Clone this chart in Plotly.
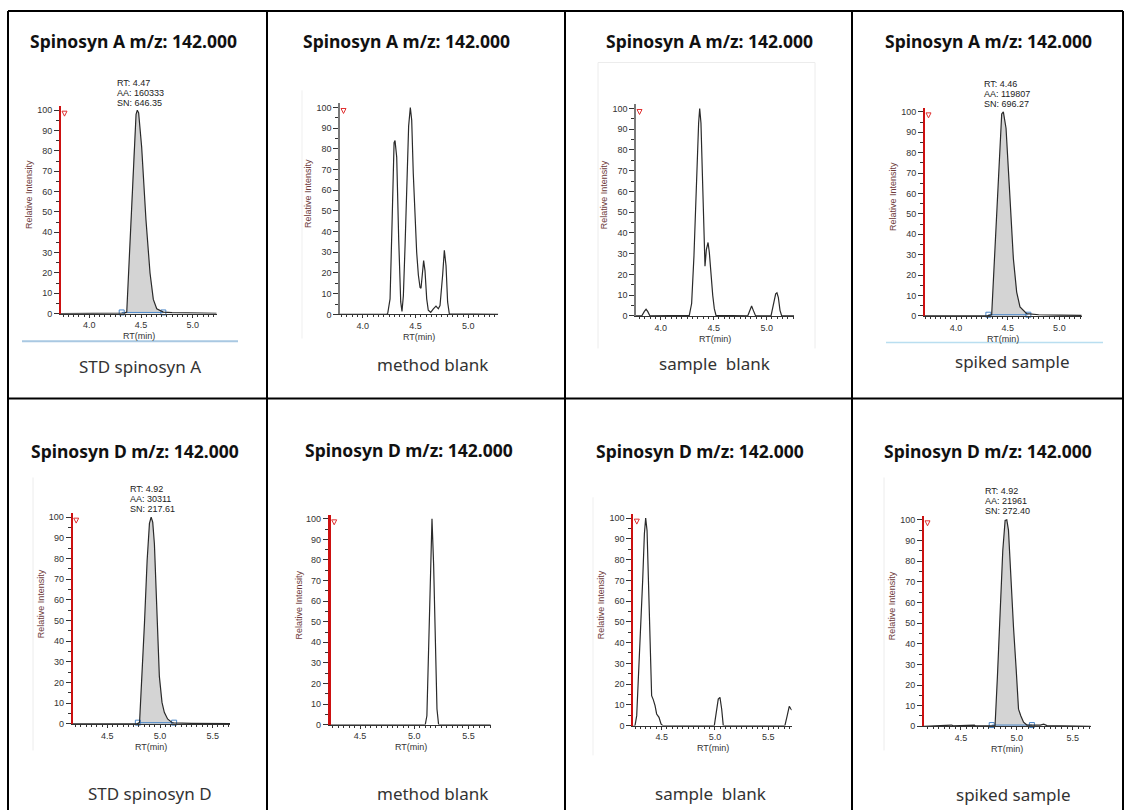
import plotly.graph_objects as go

W, H = 1130, 811

# ---------------- data ----------------
# Spinosyn A, STD
rt_a_std = [3.726, 4.30, 4.34, 4.362, 4.38, 4.403, 4.43, 4.452, 4.464, 4.477, 4.506, 4.548, 4.587, 4.619, 4.652, 4.716, 4.80, 4.95, 5.10, 5.232]
int_a_std = [0, 0, 0.3, 0.8, 20, 51, 80, 98, 100, 98.7, 82, 46, 20, 7, 2.4, 0.8, 0.5, 0.4, 0.3, 0.2]
# Spinosyn A, method blank
rt_a_mb = [3.785, 4.227, 4.237, 4.259, 4.278, 4.297, 4.306, 4.322, 4.341, 4.360, 4.372, 4.385, 4.401, 4.423, 4.435,
           4.451, 4.464, 4.479, 4.495, 4.511, 4.527, 4.543, 4.552, 4.565, 4.577, 4.590, 4.606, 4.621, 4.644, 4.669,
           4.694, 4.716, 4.732, 4.757, 4.773, 4.789, 4.804, 4.820, 5.284]
int_a_mb = [0, 0, 0.5, 7.5, 44, 83, 84, 76, 36, 6, 1.4, 9, 33, 76, 91,
            100, 94, 68, 44, 30, 19, 13, 12.6, 21, 26, 21, 7.5, 2, 1, 2.7,
            4, 2.7, 4.3, 19, 31, 23.5, 6, 0.3, 0]
# Spinosyn A, sample blank
rt_a_sb = [3.767, 3.821, 3.846, 3.862, 3.877, 3.899, 4.270, 4.292, 4.314, 4.340, 4.358, 4.368, 4.380, 4.393, 4.406,
           4.418, 4.431, 4.447, 4.459, 4.475, 4.491, 4.506, 4.522, 4.821, 4.843, 4.858, 4.874, 4.896, 5.041, 5.063,
           5.085, 5.097, 5.110, 5.126, 5.142, 5.258]
int_a_sb = [0, 0, 2.2, 3.2, 2.2, 0, 0.3, 6, 29, 69, 93, 100, 93, 69, 40,
            24, 32, 35.4, 30.6, 19.5, 10, 3.5, 0.3, 0, 3.5, 4.8, 2.7, 0, 0, 5,
            10.7, 11.2, 9, 2.7, 0, 0]
# Spinosyn A, spiked sample
rt_a_spk = [3.700, 4.30, 4.345, 4.377, 4.410, 4.442, 4.458, 4.484, 4.523, 4.555, 4.587, 4.619, 4.684, 4.80, 5.00, 5.216]
int_a_spk = [0, 0, 0.6, 34, 72, 99, 100, 92, 57, 28, 11.7, 4.4, 1.1, 0.6, 0.4, 0.3]

# Spinosyn D, STD
rt_d_std = [4.172, 4.78, 4.806, 4.831, 4.853, 4.878, 4.900, 4.916, 4.931, 4.947, 4.969, 4.994, 5.019, 5.041, 5.072, 5.119, 5.30, 5.664]
int_d_std = [0, 0, 0.5, 23, 49, 79, 97, 100, 97.6, 87, 52, 23, 10.4, 5.6, 2.4, 0.5, 0.3, 0.2]
# Spinosyn D, method blank
rt_d_mb = [4.229, 5.102, 5.117, 5.133, 5.148, 5.164, 5.179, 5.194, 5.210, 5.225, 5.706]
int_d_mb = [0, 0, 4.3, 41, 78, 100, 78, 41, 7.6, 0, 0]
# Spinosyn D, sample blank
rt_d_sb = [4.234, 4.25, 4.266, 4.281, 4.303, 4.322, 4.338, 4.35, 4.363, 4.378, 4.394, 4.406, 4.422, 4.438, 4.453,
           4.475, 4.494, 4.51, 4.994, 5.016, 5.031, 5.047, 5.063, 5.078, 5.656, 5.678, 5.697, 5.713, 5.72]
int_d_sb = [0, 0, 4.8, 20.7, 46, 70, 92.5, 100, 94, 70, 35, 14.4, 12.4, 9.6, 5.6,
            4, 0.8, 0, 0, 6.4, 12.8, 13.6, 8, 0, 0, 4.8, 9.3, 8, 7.5]
# Spinosyn D, spiked sample
rt_d_spk = [4.169, 4.40, 4.416, 4.43, 4.61, 4.62, 4.63, 4.805, 4.826, 4.850, 4.874, 4.895, 4.910, 4.925, 4.946,
            4.970, 4.994, 5.015, 5.036, 5.060, 5.090, 5.21, 5.24, 5.27, 5.661]
int_d_spk = [0, 0.3, 0.6, 0.2, 0.3, 0.6, 0.2, 0.3, 24, 56, 85, 99.7, 100, 95, 72,
             48, 27.6, 8.3, 5, 2, 0.6, 0.6, 1, 0.3, 0]

# integrated peak limits (start, end) and peak labels
peak_a_std = [4.313, 4.716]
peak_a_spk = [4.313, 4.700]
peak_d_std = [4.790, 5.134]
peak_d_spk = [4.775, 5.135]
label_a_std = ["RT: 4.47", "AA: 160333", "SN: 646.35"]
label_a_spk = ["RT: 4.46", "AA: 119807", "SN: 696.27"]
label_d_std = ["RT: 4.92", "AA: 30311", "SN: 217.61"]
label_d_spk = ["RT: 4.92", "AA: 21961", "SN: 272.40"]

titles = ["Spinosyn A m/z: 142.000"] * 4 + ["Spinosyn D m/z: 142.000"] * 4
captions = ["STD spinosyn A", "method blank", "sample  blank", "spiked sample",
            "STD spinosyn D", "method blank", "sample  blank", "spiked sample"]

# ---------------- layout of panels (pixel boxes) ----------------
panels = [
    dict(rt=rt_a_std, it=int_a_std, box=(61, 216.7, 110, 315), xr=(3.726, 5.232), red=True, peak=peak_a_std, lab=label_a_std, lxy=(115, 82.7)),
    dict(rt=rt_a_mb, it=int_a_mb, box=(340, 498.3, 107.3, 315.7), xr=(3.785, 5.284), red=False),
    dict(rt=rt_a_sb, it=int_a_sb, box=(636, 794, 108.3, 317.3), xr=(3.767, 5.258), red=False),
    dict(rt=rt_a_spk, it=int_a_spk, box=(925, 1081.7, 111.7, 317.3), xr=(3.700, 5.216), red=True, peak=peak_a_spk, lab=label_a_spk, lxy=(981.7, 83.3)),
    dict(rt=rt_d_std, it=int_d_std, box=(72.7, 230, 520, 728.3), xr=(4.172, 5.664), red=True, peak=peak_d_std, lab=label_d_std, lxy=(128.3, 491.7)),
    dict(rt=rt_d_mb, it=int_d_mb, box=(330.7, 490.7, 521.7, 729), xr=(4.229, 5.706), red=True, lw=2.6),
    dict(rt=rt_d_sb, it=int_d_sb, box=(633.3, 791.7, 521, 730), xr=(4.234, 5.720), red=True),
    dict(rt=rt_d_spk, it=int_d_spk, box=(924, 1090.7, 522.7, 730.7), xr=(4.169, 5.661), red=True, peak=peak_d_spk, lab=label_d_spk, lxy=(983.3, 493.3)),
]

title_pos = [(133, 40), (406, 40), (709, 40), (988, 40), (135, 453), (409, 452), (700, 453), (988, 453)]
caption_pos = [(140, 368), (433, 366), (714, 365), (1012, 363), (150, 798), (433, 798), (710, 798), (1013, 799)]

def px(x):
    return x / W

def py(y):
    return 1 - y / H

SANS = "Liberation Sans, Arial, sans-serif"
TICKFONT = dict(family=SANS, size=9, color="#333333")
YMAX = 102

fig = go.Figure()
layout = dict(width=W, height=H, margin=dict(l=0, r=0, t=0, b=0), autosize=False,
              paper_bgcolor="white", plot_bgcolor="white", showlegend=False)
annotations = []
shapes = []

for i, p in enumerate(panels):
    n = "" if i == 0 else str(i + 1)
    xa, ya = "x" + n, "y" + n
    left, right, top, bottom = p["box"]
    hgt = bottom - top
    top_ext = top - (YMAX - 100) / 100 * hgt
    layout["xaxis" + n] = dict(
        domain=[px(left), px(right)], range=list(p["xr"]), anchor=ya,
        showline=True, linecolor="#333333", linewidth=1, showgrid=False, zeroline=False,
        ticks="outside", ticklen=3, tickwidth=1, tickcolor="#333333",
        tick0=0, dtick=0.5, tickformat=".1f", tickfont=TICKFONT,
        minor=dict(tick0=0, dtick=0.05, ticks="outside", ticklen=2, tickcolor="#333333", showgrid=False),
        fixedrange=True)
    layout["yaxis" + n] = dict(
        domain=[py(bottom), py(top_ext)], range=[0, YMAX], anchor=xa,
        showline=True, linecolor="#cc1111" if p["red"] else "#7a7a7a",
        linewidth=p.get("lw", 2) if p["red"] else 1.5,
        showgrid=False, zeroline=False,
        ticks="outside", ticklen=5, tickwidth=1, tickcolor="#333333",
        tick0=0, dtick=10, tickfont=TICKFONT,
        minor=dict(tick0=0, dtick=5, ticks="outside", ticklen=3, tickcolor="#333333", showgrid=False),
        fixedrange=True)

    if "peak" in p:
        s, e = p["peak"]
        fx = [r for r in p["rt"] if s <= r <= e]
        fy = [v for r, v in zip(p["rt"], p["it"]) if s <= r <= e]
        fig.add_trace(go.Scatter(x=fx, y=fy, xaxis=xa, yaxis=ya, mode="lines",
                                 fill="tozeroy", fillcolor="#d4d4d4", line=dict(width=0),
                                 hoverinfo="skip"))
        fig.add_trace(go.Scatter(x=[s, e], y=[0.6, 0.6], xaxis=xa, yaxis=ya, mode="lines+markers",
                                 line=dict(color="#4a86c8", width=1),
                                 marker=dict(symbol="square-open", size=5, color="#4a86c8", line=dict(width=1)),
                                 hoverinfo="skip", cliponaxis=False))
        lx, ly = p["lxy"]
        for k, line in enumerate(p["lab"]):
            annotations.append(dict(x=px(lx), y=py(ly + 10 * k), xref="paper", yref="paper",
                                    xanchor="left", yanchor="middle", align="left", showarrow=False,
                                    text=line, font=dict(family=SANS, size=9, color="#222222")))

    fig.add_trace(go.Scatter(x=p["rt"], y=p["it"], xaxis=xa, yaxis=ya, mode="lines",
                             line=dict(color="#2a2a2a", width=1.2), hoverinfo="skip"))

    # axis titles
    annotations.append(dict(x=px(left - 32), y=py((top + bottom) / 2 - 17), xref="paper", yref="paper",
                            text="Relative Intensity", textangle=-90, showarrow=False,
                            xanchor="center", yanchor="middle",
                            font=dict(family=SANS, size=9, color="#6e3b3b")))
    annotations.append(dict(x=px((left + right) / 2), y=py(bottom + 23), xref="paper", yref="paper",
                            text="RT(min)", showarrow=False, xanchor="center", yanchor="middle",
                            font=dict(family=SANS, size=9, color="#333333")))
    # little red marker at the top of the y axis
    shapes.append(dict(type="path", xref="paper", yref="paper",
                       path="M {a},{b} L {c},{b} L {d},{e} Z".format(
                           a=px(left + 1), b=py(top + 1), c=px(left + 6), d=px(left + 3.5), e=py(top + 6)),
                       line=dict(color="#e03030", width=1)))

    tx, ty = title_pos[i]
    annotations.append(dict(x=px(tx), y=py(ty), xref="paper", yref="paper", text=titles[i],
                            showarrow=False, xanchor="center", yanchor="middle",
                            font=dict(family="Noto Sans, Open Sans, sans-serif", size=17.5, color="#111111", weight="bold")))
    cx, cy = caption_pos[i]
    annotations.append(dict(x=px(cx), y=py(cy), xref="paper", yref="paper", text=captions[i],
                            showarrow=False, xanchor="center", yanchor="middle",
                            font=dict(family="Noto Sans, Open Sans, sans-serif", size=17, color="#333333")))

# faint screenshot frames and light-blue rules
def seg(x0, y0, x1, y1, color, width):
    shapes.append(dict(type="line", xref="paper", yref="paper", x0=px(x0), y0=py(y0), x1=px(x1), y1=py(y1),
                       line=dict(color=color, width=width)))

seg(22, 342.7, 238, 342.7, "#a9c8e2", 2)
seg(886, 344, 1103, 344, "#b9def0", 1.5)
seg(598, 62, 598, 350, "#ececec", 1)
seg(598, 62, 815, 62, "#ececec", 1)
seg(815, 62, 815, 350, "#ececec", 1)
seg(302, 90, 302, 340, "#efefef", 1)
seg(33, 480, 33, 755, "#ececec", 1)
seg(593, 500, 593, 760, "#efefef", 1)
seg(884, 480, 884, 755, "#ececec", 1)

# table grid
for x in [8, 267, 565, 852, 1123]:
    seg(x, 10, x, 815, "#000000", 2)
for y in [10, 400.5]:
    seg(8, y, 1123, y, "#000000", 2)

layout["annotations"] = annotations
layout["shapes"] = shapes
fig.update_layout(**layout)
fig.write_html("out.html")
